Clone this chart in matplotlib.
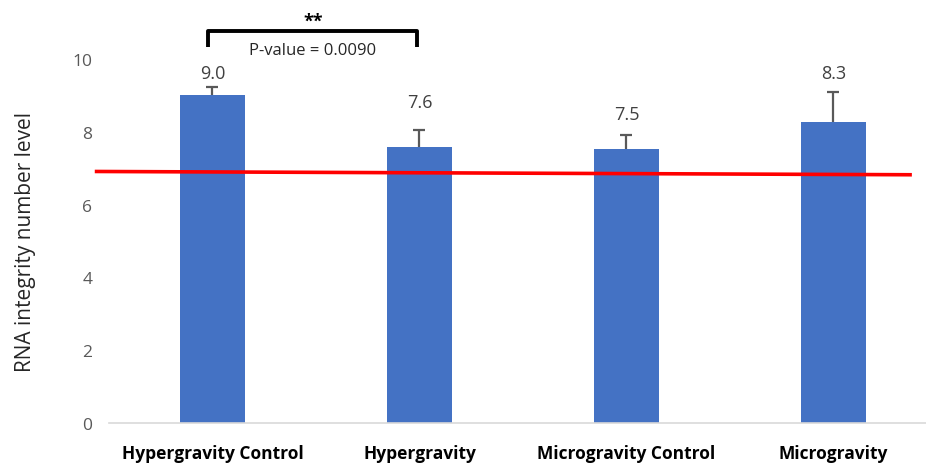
import numpy as np
import matplotlib.pyplot as plt

plt.rcParams['font.family'] = ['Open Sans', 'DejaVu Sans']

categories = ['Hypergravity Control', 'Hypergravity', 'Microgravity Control', 'Microgravity']
rin_mean = [9.02, 7.57, 7.52, 8.26]
rin_err = [0.22, 0.47, 0.40, 0.83]
value_labels = ['9.0', '7.6', '7.5', '8.3']

# threshold line (slightly sloped in the original)
threshold_x = [-0.56, 3.37]
threshold_y = [6.91, 6.82]

p_text = 'P-value = 0.0090'
sig_text = '**'

W, H = 926, 464
fig = plt.figure(figsize=(W / 100, H / 100), dpi=100)
ax = fig.add_axes([109 / W, 40 / H, (926 - 109) / W, (424 - 60) / H])

x = np.arange(len(categories))
ax.bar(x, rin_mean, width=0.315, color='#4472C4', zorder=2)
eb = ax.errorbar(x, rin_mean, yerr=[np.zeros(len(rin_err)), rin_err], fmt='none',
                 ecolor='#595959', elinewidth=1.6, capsize=4.5, capthick=1.6, zorder=3)
# only the upper cap
eb[1][0].set_visible(False)

# value labels (Excel style, placed above bars)
label_y = [9.62, 8.82, 8.49, 9.62]
for xi, ly, t in zip(x, label_y, value_labels):
    ax.text(xi, ly, t, ha='center', va='center', fontsize=13, color='#404040')

ax.plot(threshold_x, threshold_y, color='#FF0000', lw=2.6, zorder=4, clip_on=False)

# significance bracket
bx0, bx1, btop, bbot = -0.02, 0.99, 10.77, 10.33
ax.plot([bx0, bx0, bx1, bx1], [bbot, btop, btop, bbot], color='black', lw=2.8,
        solid_joinstyle='round', solid_capstyle='butt', clip_on=False)
ax.text((bx0 + bx1) / 2, 11.05, sig_text, ha='center', va='center', fontsize=13,
        fontweight='bold', color='black', clip_on=False)
ax.text((bx0 + bx1) / 2, 10.24, p_text, ha='center', va='center', fontsize=12,
        color='#262626', clip_on=False)

ax.set_xlim(-0.5, 3.447)
ax.set_ylim(0, 10)
ax.set_yticks(np.arange(0, 11, 2))
ax.set_xticks(x)
ax.set_xticklabels(categories, fontsize=12.5, fontweight='bold', color='black')
ax.tick_params(axis='both', length=0)
ax.tick_params(axis='y', labelsize=12.5, labelcolor='#595959', pad=12)
ax.tick_params(axis='x', pad=15)
for s in ['top', 'right', 'left']:
    ax.spines[s].set_visible(False)
ax.spines['bottom'].set_color('#D9D9D9')
ax.spines['bottom'].set_linewidth(1.2)
ax.set_ylabel('RNA integrity number level', fontsize=15, color='#262626', labelpad=26)

fig.savefig('out.png', dpi=100)
